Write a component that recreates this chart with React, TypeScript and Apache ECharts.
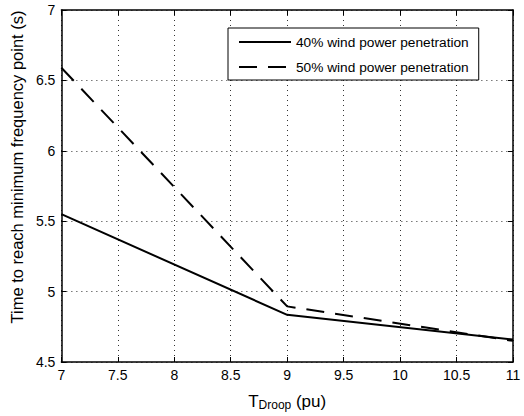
import React, { useEffect, useRef } from "react";
import * as echarts from "echarts";

const tDroop = [7, 9, 11];
const wind40 = [5.55, 4.835, 4.66];
const wind50 = [6.59, 4.895, 4.65];
const seriesNames = ["40% wind power penetration", "50% wind power penetration"];

export default function App() {
  const ref = useRef<HTMLDivElement>(null);
  useEffect(() => {
    document.body.style.margin = "0";
    const chart = echarts.init(ref.current!, null, { renderer: "svg" });
    const font = "Liberation Sans, Arial, sans-serif";
    const grid = { lineStyle: { color: "#333", type: [1, 4] as any, width: 1 } };
    chart.setOption({
      animation: false,
      backgroundColor: "#fff",
      textStyle: { fontFamily: font, color: "#000" },
      grid: { left: 57, right: 11, top: 10, bottom: 52, containLabel: false },
      legend: {
        orient: "vertical",
        left: 228,
        top: 28,
        padding: [7, 10, 6, 10],
        itemGap: 11,
        itemWidth: 52,
        itemHeight: 14,
        borderColor: "#000",
        borderWidth: 1,
        backgroundColor: "#fff",
        itemStyle: { opacity: 0 },
        textStyle: { fontSize: 13.7, fontFamily: font, color: "#000" },
        data: seriesNames,
      },
      xAxis: [
        {
          type: "value",
          min: 7,
          max: 11,
          interval: 0.5,
          name: "{a|T}{b|Droop}{a| (pu)}",
          nameLocation: "middle",
          nameGap: 30,
          nameTextStyle: {
            rich: {
              a: { fontSize: 17, fontFamily: font, color: "#000" },
              b: { fontSize: 12, fontFamily: font, color: "#000", verticalAlign: "bottom", padding: [7, 0, 0, 0] },
            },
          },
          axisLine: { show: true, lineStyle: { color: "#000", width: 1.5 } },
          axisTick: { show: true, inside: true, length: 5, lineStyle: { color: "#000" } },
          axisLabel: { fontSize: 14, color: "#000", margin: 6, fontFamily: font },
          splitLine: { show: true, ...grid },
        },
        {
          type: "value",
          position: "top",
          min: 7,
          max: 11,
          interval: 0.5,
          axisLine: { show: true, lineStyle: { color: "#000", width: 1.5 } },
          axisTick: { show: true, inside: true, length: 5, lineStyle: { color: "#000" } },
          axisLabel: { show: false },
          splitLine: { show: false },
        },
      ],
      yAxis: [
        {
          type: "value",
          min: 4.5,
          max: 7,
          interval: 0.5,
          name: "Time to reach minimum frequency point (s)",
          nameLocation: "middle",
          nameGap: 24,
          nameTextStyle: { fontSize: 16.5, fontFamily: font, color: "#000", padding: [0, 0, 0, 38] },
          axisLine: { show: true, lineStyle: { color: "#000", width: 1.5 } },
          axisTick: { show: true, inside: true, length: 5, lineStyle: { color: "#000" } },
          axisLabel: { fontSize: 14, color: "#000", margin: 6, fontFamily: font },
          splitLine: { show: true, ...grid },
        },
        {
          type: "value",
          position: "right",
          min: 4.5,
          max: 7,
          interval: 0.5,
          axisLine: { show: true, lineStyle: { color: "#000", width: 1.5 } },
          axisTick: { show: true, inside: true, length: 5, lineStyle: { color: "#000" } },
          axisLabel: { show: false },
          splitLine: { show: false },
        },
      ],
      series: [
        {
          name: seriesNames[0],
          type: "line",
          symbol: "none",
          data: tDroop.map((x, i) => [x, wind40[i]]),
          lineStyle: { color: "#000", width: 2, type: "solid" },
          itemStyle: { color: "#000" },
        },
        {
          name: seriesNames[1],
          type: "line",
          symbol: "none",
          data: tDroop.map((x, i) => [x, wind50[i]]),
          lineStyle: { color: "#000", width: 2, type: [18, 11] },
          itemStyle: { color: "#000" },
        },
      ],
    });
    return () => chart.dispose();
  }, []);
  return <div ref={ref} style={{ width: 524, height: 416 }} />;
}
